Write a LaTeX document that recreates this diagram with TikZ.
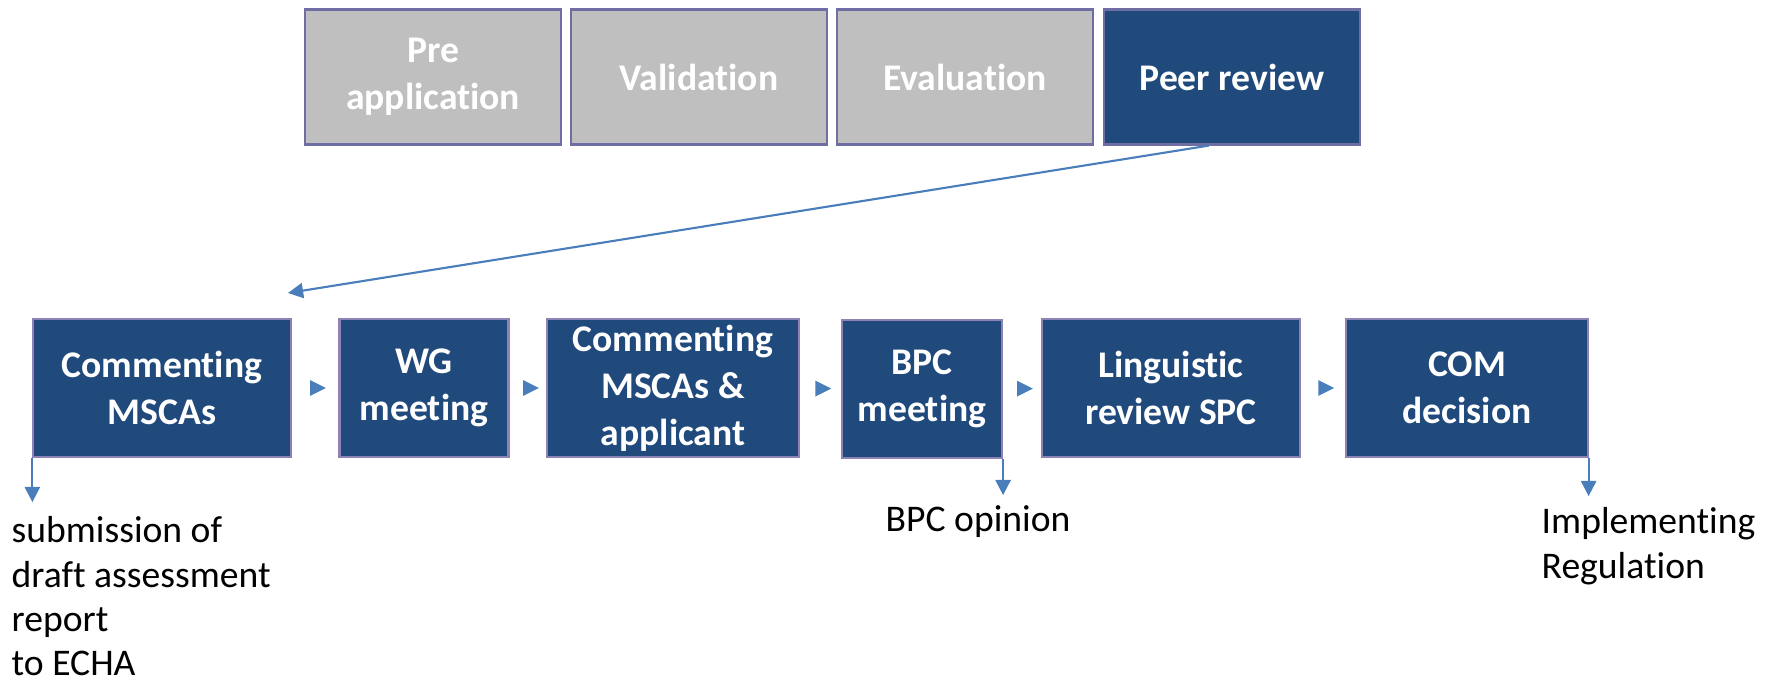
\documentclass[tikz,border=0pt]{standalone}
\usepackage{fontspec}
\setmainfont{Carlito}[Ligatures=NoCommon]
\usetikzlibrary{arrows.meta,shapes.geometric,calc}
\definecolor{stageblue}{RGB}{32,73,124}
\definecolor{phasegrey}{RGB}{191,191,191}
\definecolor{phaseedge}{RGB}{110,110,165}
\definecolor{stageedge}{RGB}{140,130,180}
\definecolor{flowblue}{RGB}{74,126,187}
\newcommand{\stepfont}{\fontsize{10.7}{13.3}\selectfont}
\newcommand{\notefont}{\fontsize{10.7}{12.6}\selectfont}
\tikzset{
  phase/.style={draw=phaseedge, line width=0.6pt, fill=phasegrey, text=white,
    font=\stepfont\bfseries, align=center, inner sep=0pt,
    minimum width=2.56cm, minimum height=1.35cm},
  stage/.style={draw=stageedge, line width=0.6pt, fill=stageblue, text=white,
    font=\stepfont\bfseries, align=center, inner sep=0pt, minimum height=1.38cm},
  tri/.style={isosceles triangle, isosceles triangle stretches, fill=flowblue,
    inner sep=0pt, minimum width=4.5pt, minimum height=4.5pt},
  flow/.style={draw=flowblue, line width=0.6pt, -{Triangle[width=4.3pt,length=4.3pt]}},
  note/.style={anchor=north west, align=left, inner sep=0pt, font=\notefont}
}
\begin{document}
\begin{tikzpicture}[x=0.01cm, y=-0.01cm, font=\stepfont]
	\useasboundingbox (0,0) rectangle (1769,681);
	% phases
	\node[phase] (pre) at (433,77) {Pre\\application};
	\node[phase] (valid) at (699,77) {Validation};
	\node[phase] (eval) at (965,77) {Evaluation};
	\node[phase, fill=stageblue] (peer) at (1232,77) {Peer review};
	% peer review steps
	\node[stage, minimum width=2.57cm] (cmt) at (162,388) {Commenting\\MSCAs};
	\node[stage, minimum width=1.69cm] (wg) at (424,388) {WG\\meeting};
	\node[stage, minimum width=2.51cm] (cmtapp) at (673,388) {Commenting\\MSCAs \&\\applicant};
	\node[stage, minimum width=1.60cm] (bpc) at (922,389) {BPC\\meeting};
	\node[stage, minimum width=2.58cm] (ling) at (1171,388) {Linguistic\\review SPC};
	\node[stage, minimum width=2.41cm] (com) at (1467,388) {COM\\decision};
	\foreach \a/\b in {cmt/wg, wg/cmtapp, cmtapp/bpc, bpc/ling, ling/com}
		\path (\a) -- node[tri] (t\a) {} (\b);
	% peer review -> first step
	\coordinate (peerend) at (288,293);
	\draw[flow] ($(peer.south west)!0.41!(peer.south east)$) -- (peerend);
	% outputs
	\draw[flow] (cmt.south west) -- ++(0,44) coordinate (subtip);
	\draw[flow] (bpc.south east) -- ++(0,36) coordinate (opiniontip);
	\draw[flow] (com.south east) -- ++(0,38) coordinate (impltip);
	\node[note] (sub) at (11,516) {submission of\\draft assessment\\report\\to ECHA};
	\node[note] (opinion) at (885,505) {BPC opinion};
	\node[note] (impl) at (1541,507) {Implementing\\Regulation};
\end{tikzpicture}
\end{document}
